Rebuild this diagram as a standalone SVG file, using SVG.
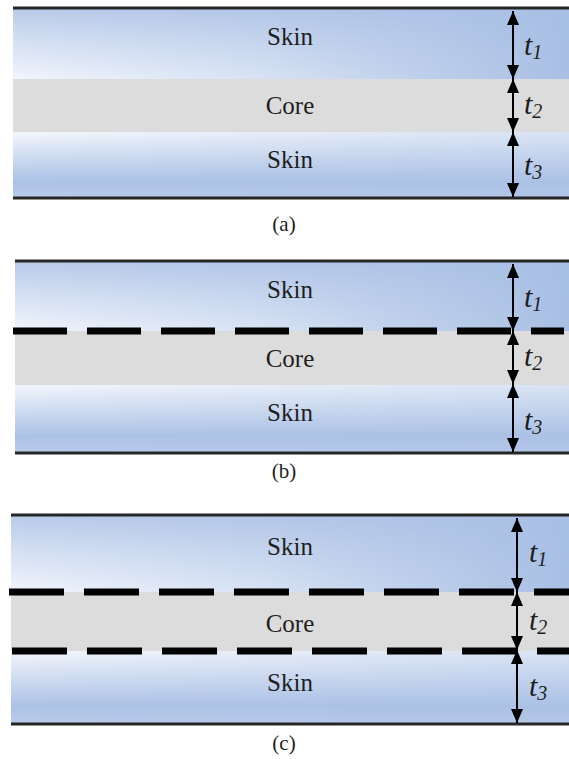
<svg xmlns="http://www.w3.org/2000/svg" width="569" height="759" viewBox="0 0 569 759" font-family="Liberation Serif, Times New Roman, serif">
  <style>
    .lbl { font-size: 25px; text-anchor: middle; fill: #1e1e1e; }
    .cap { font-size: 21px; text-anchor: middle; fill: #1e1e1e; }
    .t { font-style: italic; font-size: 30px; fill: #1e1e1e; }
    .sub { font-size: 20px; }
    .edge { stroke: #262626; stroke-width: 3; }
    .dash { stroke: #000; stroke-width: 7; stroke-dasharray: 54 20; }
    .dash-c { stroke-dasharray: 55 20; }
    .core { fill: #dcdcdc; }
    .dim { stroke: #000; stroke-width: 2; marker-start: url(#head); marker-end: url(#head); }
  </style>
  <defs>
    <!-- upper skin: blue at the top, fading to white towards the core -->
    <linearGradient id="skinTopV" x1="0" y1="0" x2="0" y2="1">
      <stop offset="0" stop-color="#b8cae9"/>
      <stop offset="0.55" stop-color="#d9e3f4"/>
      <stop offset="1" stop-color="#f1f5fc"/>
    </linearGradient>
    <!-- right-hand side stays saturated blue -->
    <linearGradient id="skinTopH" x1="0" y1="0" x2="1" y2="0">
      <stop offset="0" stop-color="#a8bfe4" stop-opacity="0"/>
      <stop offset="0.45" stop-color="#a8bfe4" stop-opacity="0.35"/>
      <stop offset="1" stop-color="#a8bfe4" stop-opacity="1"/>
    </linearGradient>
    <!-- lower skin: white next to the core, blue towards the bottom -->
    <linearGradient id="skinBotV" x1="0" y1="0" x2="0" y2="1">
      <stop offset="0" stop-color="#f3f6fc"/>
      <stop offset="0.3" stop-color="#d6e1f3"/>
      <stop offset="0.75" stop-color="#acc2e6"/>
      <stop offset="1" stop-color="#b9cbea"/>
    </linearGradient>
    <linearGradient id="skinBotH" x1="0" y1="0" x2="1" y2="0">
      <stop offset="0" stop-color="#a8bfe4" stop-opacity="0"/>
      <stop offset="1" stop-color="#a8bfe4" stop-opacity="0.35"/>
    </linearGradient>
    <marker id="head" viewBox="0 0 14 12" refX="14" refY="6" markerWidth="14" markerHeight="12" markerUnits="userSpaceOnUse" orient="auto-start-reverse">
      <path d="M0,0 L14,6 L0,12 z" fill="#000"/>
    </marker>
  </defs>

  <!-- (a) perfectly bonded sandwich -->
  <g id="panel-a" font-family="Liberation Serif">
    <rect x="13" y="8" width="556" height="71" fill="url(#skinTopV)"/>
    <rect x="13" y="8" width="556" height="71" fill="url(#skinTopH)"/>
    <rect class="core" x="13" y="79" width="556" height="53"/>
    <rect x="13" y="132" width="556" height="66" fill="url(#skinBotV)"/>
    <rect x="13" y="132" width="556" height="66" fill="url(#skinBotH)"/>
    <line class="edge" x1="13" y1="8" x2="569" y2="8"/>
    <line class="edge" x1="13" y1="198" x2="569" y2="198"/>
    <text class="lbl" x="290" y="45">Skin</text>
    <text class="lbl" x="290" y="114">Core</text>
    <text class="lbl" x="290" y="168">Skin</text>
    <text class="t" x="524" y="55">t<tspan class="sub" dy="4">1</tspan></text>
    <text class="t" x="524" y="114">t<tspan class="sub" dy="4">2</tspan></text>
    <text class="t" x="524" y="175">t<tspan class="sub" dy="4">3</tspan></text>
    <text class="cap" x="284" y="231">(a)</text>
  </g>

  <!-- (b) one debonded interface -->
  <g id="panel-b" font-family="Liberation Serif">
    <rect x="15" y="261" width="554" height="70" fill="url(#skinTopV)"/>
    <rect x="15" y="261" width="554" height="70" fill="url(#skinTopH)"/>
    <rect class="core" x="15" y="331" width="554" height="54"/>
    <rect x="15" y="385" width="554" height="68" fill="url(#skinBotV)"/>
    <rect x="15" y="385" width="554" height="68" fill="url(#skinBotH)"/>
    <line class="edge" x1="15" y1="261" x2="569" y2="261"/>
    <line class="edge" x1="15" y1="453" x2="569" y2="453"/>
    <line class="dash" x1="13" y1="331" x2="564" y2="331"/>
    <text class="lbl" x="290" y="298">Skin</text>
    <text class="lbl" x="290" y="367">Core</text>
    <text class="lbl" x="290" y="421">Skin</text>
    <text class="t" x="524" y="307">t<tspan class="sub" dy="4">1</tspan></text>
    <text class="t" x="524" y="366">t<tspan class="sub" dy="4">2</tspan></text>
    <text class="t" x="524" y="430">t<tspan class="sub" dy="4">3</tspan></text>
    <text class="cap" x="284" y="478">(b)</text>
  </g>

  <!-- (c) both interfaces debonded -->
  <g id="panel-c" font-family="Liberation Serif">
    <rect x="11" y="515" width="558" height="77" fill="url(#skinTopV)"/>
    <rect x="11" y="515" width="558" height="77" fill="url(#skinTopH)"/>
    <rect class="core" x="11" y="592" width="558" height="59"/>
    <rect x="11" y="651" width="558" height="73" fill="url(#skinBotV)"/>
    <rect x="11" y="651" width="558" height="73" fill="url(#skinBotH)"/>
    <line class="edge" x1="11" y1="515" x2="569" y2="515"/>
    <line class="edge" x1="11" y1="724" x2="569" y2="724"/>
    <line class="dash dash-c" x1="9" y1="592" x2="569" y2="592"/>
    <line class="dash dash-c" x1="12" y1="651" x2="569" y2="651"/>
    <text class="lbl" x="290" y="555">Skin</text>
    <text class="lbl" x="290" y="632">Core</text>
    <text class="lbl" x="290" y="691">Skin</text>
    <text class="t" x="529" y="562">t<tspan class="sub" dy="4">1</tspan></text>
    <text class="t" x="529" y="630">t<tspan class="sub" dy="4">2</tspan></text>
    <text class="t" x="529" y="696">t<tspan class="sub" dy="4">3</tspan></text>
    <text class="cap" x="284" y="750">(c)</text>
  </g>

  <!-- thickness dimension arrows -->
  <g id="connectors">
    <line class="dim" x1="513" y1="79" x2="513" y2="11"/>
    <line class="dim" x1="513" y1="79" x2="513" y2="132"/>
    <line class="dim" x1="513" y1="132" x2="513" y2="197"/>
    <line class="dim" x1="513" y1="331" x2="513" y2="264"/>
    <line class="dim" x1="513" y1="331" x2="513" y2="384"/>
    <line class="dim" x1="513" y1="384" x2="513" y2="452"/>
    <line class="dim" x1="517" y1="592" x2="517" y2="518"/>
    <line class="dim" x1="517" y1="592" x2="517" y2="650"/>
    <line class="dim" x1="517" y1="650" x2="517" y2="723"/>
  </g>
</svg>
